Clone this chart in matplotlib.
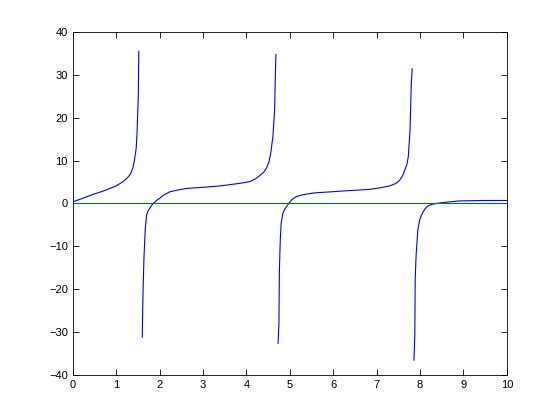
import matplotlib
matplotlib.use("Agg")
import matplotlib.pyplot as plt

# branch points (x, y)
x1 = [0.0, 0.2, 0.46, 0.7, 0.85, 1.0, 1.16, 1.25, 1.31, 1.35, 1.39, 1.42, 1.46, 1.48, 1.51, 1.52]
y1 = [0.4, 1.1, 2.1, 2.9, 3.5, 4.1, 5.1, 5.9, 6.6, 7.4, 8.5, 10.1, 12.8, 16.4, 25.3, 35.5]

x2 = [1.60, 1.61, 1.62, 1.64, 1.67, 1.70, 1.73, 1.77, 1.82, 1.87, 1.93, 2.0, 2.1, 2.23, 2.4, 2.61, 2.9,
      3.15, 3.4, 3.62, 3.85, 4.08, 4.2, 4.31, 4.4, 4.46, 4.52, 4.56, 4.61, 4.65, 4.67, 4.68]
y2 = [-31.2, -25.0, -19.9, -12.5, -5.9, -2.7, -1.8, -1.2, -0.4, 0.15, 0.7, 1.2, 2.0, 2.7, 3.1, 3.5, 3.7,
      3.9, 4.1, 4.4, 4.7, 5.1, 5.7, 6.5, 7.3, 8.2, 9.7, 11.7, 15.6, 21.8, 31.2, 34.7]

x3 = [4.73, 4.75, 4.76, 4.78, 4.80, 4.84, 4.88, 4.92, 4.99, 5.05, 5.15, 5.25, 5.38, 5.6, 5.92, 6.2, 6.53,
      6.84, 7.05, 7.30, 7.45, 7.53, 7.6, 7.65, 7.70, 7.73, 7.77, 7.80, 7.82]
y3 = [-32.6, -27.7, -15.6, -8.6, -4.7, -2.3, -1.4, -0.8, 0.2, 0.9, 1.6, 1.9, 2.2, 2.5, 2.7, 2.9, 3.1,
      3.3, 3.6, 4.1, 4.7, 5.4, 6.5, 7.8, 9.2, 10.9, 17.1, 28.1, 31.4]

x4 = [7.86, 7.88, 7.89, 7.91, 7.95, 7.99, 8.03, 8.07, 8.12, 8.18, 8.27, 8.37, 8.60, 8.91, 9.5, 10.0]
y4 = [-36.5, -30.8, -17.5, -12.1, -6.2, -3.9, -2.8, -2.0, -1.2, -0.6, -0.2, 0.0, 0.3, 0.6, 0.7, 0.7]

zero_x = [0, 10]
zero_y = [0, 0]

plt.rcParams['font.family'] = ['Liberation Sans', 'DejaVu Sans']

fig = plt.figure(figsize=(5.6, 4.2), dpi=100)
ax = fig.add_axes([0.13, 0.107, 0.775, 0.817])

for xs, ys in [(x1, y1), (x2, y2), (x3, y3), (x4, y4)]:
    ax.plot(xs, ys, color=(0, 0, 1), linewidth=0.8)
ax.plot(zero_x, zero_y, color=(0, 0.5, 0), linewidth=0.8)

ax.set_xlim(0, 10)
ax.set_ylim(-40, 40)
ax.set_xticks(range(0, 11))
ax.set_yticks(range(-40, 41, 10))
ax.tick_params(direction='in', top=True, right=True, labelsize=8, length=4, width=0.6)
for s in ax.spines.values():
    s.set_linewidth(0.6)

fig.savefig("out.png", dpi=100)
